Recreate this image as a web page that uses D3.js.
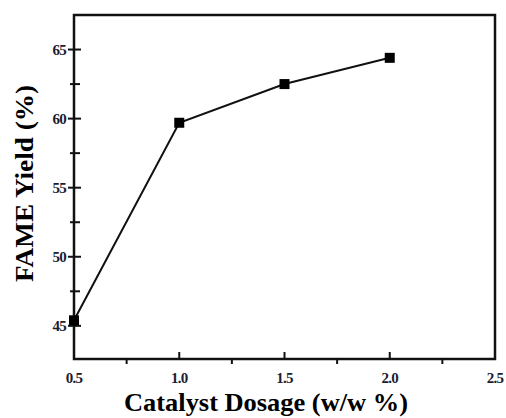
<!DOCTYPE html>
<html>
<head>
<meta charset="utf-8">
<script src="https://cdn.jsdelivr.net/npm/d3@7"></script>
</head>
<body style="margin:0; background:#fff">
<svg width="506" height="418"></svg>
<script>
const dosage = [0.5, 1.0, 1.5, 2.0];
const yieldPct = [45.4, 59.7, 62.5, 64.4];
const xTicks = [0.5, 1.0, 1.5, 2.0, 2.5];
const xMinor = [0.75, 1.25, 1.75, 2.25];
const yTicks = [45, 50, 55, 60, 65];
const yMinor = [47.5, 52.5, 57.5, 62.5];

const serif = '"Liberation Serif"';

const svg = d3.select('svg');
const margin = { top: 15, right: 11, bottom: 59, left: 74 };
const width = +svg.attr('width');
const height = +svg.attr('height');
const innerWidth = width - margin.left - margin.right;
const innerHeight = height - margin.top - margin.bottom;

const xScale = d3.scaleLinear().domain([0.5, 2.5]).range([0, innerWidth]);
const yScale = d3.scaleLinear().domain([42.6, 67.5]).range([innerHeight, 0]);

const g = svg.append('g')
    .attr('transform', `translate(${margin.left}, ${margin.top})`);

// frame
g.append('rect')
    .attr('width', innerWidth)
    .attr('height', innerHeight)
    .attr('fill', 'none')
    .attr('stroke', '#111')
    .attr('stroke-width', 2.5);

// x ticks: major point inward, minor outward
g.selectAll('.xmaj').data(xTicks.slice(1, -1)).enter().append('line')
    .attr('x1', d => xScale(d)).attr('x2', d => xScale(d))
    .attr('y1', innerHeight).attr('y2', innerHeight - 7)
    .attr('stroke', '#111').attr('stroke-width', 2);
g.selectAll('.xmin').data(xMinor).enter().append('line')
    .attr('x1', d => xScale(d)).attr('x2', d => xScale(d))
    .attr('y1', innerHeight).attr('y2', innerHeight + 5)
    .attr('stroke', '#111').attr('stroke-width', 2);

// y ticks cross the axis
g.selectAll('.ymaj').data(yTicks).enter().append('line')
    .attr('x1', -6).attr('x2', 7)
    .attr('y1', d => yScale(d)).attr('y2', d => yScale(d))
    .attr('stroke', '#111').attr('stroke-width', 2);
g.selectAll('.ymin').data(yMinor).enter().append('line')
    .attr('x1', -4).attr('x2', 6)
    .attr('y1', d => yScale(d)).attr('y2', d => yScale(d))
    .attr('stroke', '#111').attr('stroke-width', 2);

// tick labels
g.selectAll('.xlab').data(xTicks).enter().append('text')
    .attr('x', d => xScale(d))
    .attr('y', innerHeight + 24)
    .attr('text-anchor', 'middle')
    .style('font-family', serif)
    .style('font-weight', 'bold')
    .style('font-size', '15px')
    .style('letter-spacing', '-0.8px')
    .attr('fill', '#1c1c30')
    .text(d3.format('.1f'));

g.selectAll('.ylab').data(yTicks).enter().append('text')
    .attr('x', -8)
    .attr('y', d => yScale(d) + 5)
    .attr('text-anchor', 'end')
    .style('font-family', serif)
    .style('font-weight', 'bold')
    .style('font-size', '15px')
    .style('letter-spacing', '-0.8px')
    .attr('fill', '#1c1c30')
    .text(d => d);

// line + markers
const data = dosage.map((d, i) => ({ x: d, y: yieldPct[i] }));
g.append('path')
    .datum(data)
    .attr('fill', 'none')
    .attr('stroke', '#111')
    .attr('stroke-width', 2)
    .attr('d', d3.line().x(d => xScale(d.x)).y(d => yScale(d.y)));

const s = 10;
g.selectAll('.pt').data(data).enter().append('rect')
    .attr('x', d => xScale(d.x) - s / 2)
    .attr('y', d => yScale(d.y) - s / 2)
    .attr('width', s).attr('height', s)
    .attr('fill', '#000');

// axis titles
svg.append('text')
    .attr('x', 124)
    .attr('y', 411)
    .attr('textLength', 284)
    .attr('lengthAdjust', 'spacingAndGlyphs')
    .style('font-family', serif)
    .style('font-weight', 'bold')
    .style('font-size', '26px')
    .attr('fill', '#000')
    .text('Catalyst Dosage (w/w %)');

svg.append('text')
    .attr('transform', 'translate(33, 282) rotate(-90)')
    .attr('textLength', 197)
    .attr('lengthAdjust', 'spacingAndGlyphs')
    .style('font-family', serif)
    .style('font-weight', 'bold')
    .style('font-size', '26px')
    .attr('fill', '#000')
    .text('FAME Yield (%)');
</script>
</body>
</html>
